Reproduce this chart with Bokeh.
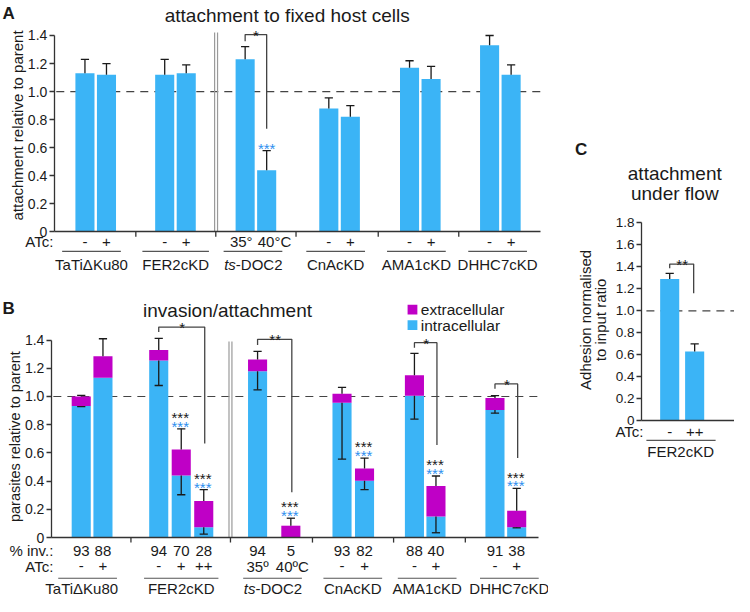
from bokeh.plotting import figure
from bokeh.models import Range1d, LinearAxis, FixedTicker, PrintfTickFormatter
from bokeh.layouts import row, column
from bokeh.embed import file_html
from bokeh.resources import INLINE
from bokeh.core.properties import value
import math

# ---------------- data ----------------
GROUPS = ["TaTiΔKu80", "FER2cKD", "ts-DOC2", "CnAcKD", "AMA1cKD", "DHHC7cKD"]

# Panel A: attachment to fixed host cells
A_GROUP = [0, 0, 1, 1, 2, 2, 3, 3, 4, 4, 5, 5]
A_ATC = ["-", "+", "-", "+", "35°", "40°C", "-", "+", "-", "+", "-", "+"]
A_MEAN = [1.13, 1.12, 1.12, 1.13, 1.23, 0.44, 0.88, 0.82, 1.17, 1.09, 1.33, 1.12]
A_ERR = [1.23, 1.20, 1.23, 1.19, 1.32, 0.58, 0.955, 0.90, 1.22, 1.18, 1.40, 1.19]
A_BLUE_STARS = [5]
A_BRACKETS = [(4, 5, "*")]

# Panel B: invasion/attachment
B_GROUP = [0, 0, 1, 1, 1, 2, 2, 3, 3, 4, 4, 5, 5]
B_ATC = ["-", "+", "-", "+", "++", "35º", "40ºC", "-", "+", "-", "+", "-", "+"]
B_INV = ["93", "88", "94", "70", "28", "94", "5", "93", "82", "88", "40", "91", "38"]
B_TOTAL = [1.00, 1.285, 1.33, 0.625, 0.26, 1.262, 0.085, 1.02, 0.49, 1.151, 0.366, 0.99, 0.191]
B_INTRA = [0.932, 1.133, 1.255, 0.44, 0.074, 1.179, 0.0, 0.955, 0.403, 1.006, 0.15, 0.905, 0.074]
B_ERR_HI = [1.008, 1.409, 1.411, 0.771, 0.341, 1.319, 0.138, 1.064, 0.564, 1.305, 0.437, 1.006, 0.35]
B_ERR_LO = [0.928, None, 1.078, 0.304, 0.026, 1.047, None, 0.557, 0.341, 0.84, 0.035, 0.882, 0.07]
B_STARS = [3, 4, 6, 8, 10, 12]
B_BRACKETS = [(2, 4, "*"), (5, 6, "**"), (9, 10, "*"), (11, 12, "*")]

# Panel C: attachment under flow
C_ATC = ["-", "++"]
C_MEAN = [1.29, 0.63]
C_ERR = [1.34, 0.70]
C_BRACKETS = [(0, 1, "**")]

# ---------------- style / layout ----------------
FONT = "Liberation Sans"
BLUE = "#3BB4F6"
PURPLE = "#BF00C6"
STAR_BLUE = "#2E8FEF"
INK = "#1a1a1a"
AXIS = "#333333"
SX = 734 / 750
SY = 596 / 612
STAR_FS = 15


class Conv:
    def __init__(self, y0, ppu):
        self.y0, self.ppu = y0, ppu

    def __call__(self, py):
        return (self.y0 - py) / self.ppu

    def px(self, v):
        return self.y0 - v * self.ppu


def make_fig(x0, x1, top_px, bot_px, conv):
    w = round((x1 - x0) * SX)
    h = round((bot_px - top_px) * SY)
    p = figure(width=w, height=h, x_range=Range1d(x0, x1),
               y_range=Range1d(conv(bot_px), conv(top_px)),
               x_axis_type=None, y_axis_type=None, toolbar_location=None,
               output_backend="svg", min_border=0, outline_line_color=None,
               background_fill_color="white", border_fill_color="white")
    return p


def T(p, x, y, s, size="15px", align="center", baseline="middle", color=INK,
      style="normal", angle=0.0):
    p.text(x=[x], y=[y], text=[s], text_font=value(FONT), text_font_size=value(size),
           text_align=align, text_baseline=baseline, text_color=color,
           text_font_style=style, angle=angle)


def add_axes(p, xpos, ytop, yticks, xb0, xb1, xticks, conv, label_size="14px"):
    ya = LinearAxis(fixed_location=xpos, bounds=(0, ytop), ticker=FixedTicker(ticks=yticks),
                    formatter=PrintfTickFormatter(format="%.1f"),
                    major_label_overrides={0: "0"}, major_tick_out=5, major_tick_in=0,
                    minor_tick_out=0, minor_tick_in=0, axis_line_color=AXIS,
                    axis_line_width=1.3, major_tick_line_color=AXIS, major_tick_line_width=1.3,
                    major_label_text_font=FONT, major_label_text_font_size=label_size,
                    major_label_text_color=INK, major_label_standoff=2)
    p.add_layout(ya, "left")
    xa = LinearAxis(fixed_location=0, bounds=(xb0, xb1), ticker=FixedTicker(ticks=[]),
                    major_tick_out=0, major_tick_in=0, minor_tick_out=0, minor_tick_in=0,
                    axis_line_color=AXIS, axis_line_width=1.3)
    p.add_layout(xa, "below")
    # group separator ticks under the axis line
    if xticks:
        p.segment(x0=xticks, y0=[0] * len(xticks), x1=xticks, y1=[conv(conv.y0 + 5)] * len(xticks),
                  line_color=AXIS, line_width=1.3)


def whisker(p, x, v0, v1, half_px=4.2):
    p.segment(x0=[x], y0=[v0], x1=[x], y1=[v1], line_color=INK, line_width=1.3)
    p.segment(x0=[x - half_px], y0=[v1], x1=[x + half_px], y1=[v1], line_color=INK, line_width=1.3)


def star(p, x, center_px, conv, s, color=INK, size=STAR_FS):
    T(p, x, conv(center_px + 0.5 * size), s, size=f"{size}px", baseline="alphabetic", color=color)


def bracket(p, xl, xr, top_px, lb_px, rb_px, conv):
    p.line(x=[xl, xl, xr, xr], y=[conv(lb_px), conv(top_px), conv(top_px), conv(rb_px)],
           line_color="#444444", line_width=1.3)


TICKS_14 = [0, 0.2, 0.4, 0.6, 0.8, 1.0, 1.2, 1.4]
TICKS_18 = [0, 0.2, 0.4, 0.6, 0.8, 1.0, 1.2, 1.4, 1.6, 1.8]

# =============== Panel A ===============
a_v = Conv(238.0, 144.3)
pa = make_fig(0, 560, 0, 290, a_v)
A_GCENTER = [97.3, 178.8, 261.0, 346.5, 429.0, 510.8]
A_X = [A_GCENTER[g] + (-11 if i % 2 == 0 else 11) for i, g in enumerate(A_GROUP)]

pa.segment(x0=[57], y0=[1.0], x1=[552], y1=[1.0], line_color="#444444", line_width=1.2, line_dash="8 6")
for xs in (218.8, 221.8):
    pa.segment(x0=[xs], y0=[a_v(33)], x1=[xs], y1=[0], line_color="#9a9a9a", line_width=1.2)
pa.vbar(x=A_X, top=A_MEAN, bottom=0, width=19.5, fill_color=BLUE, line_color=None)
for x, m, e in zip(A_X, A_MEAN, A_ERR):
    whisker(pa, x, m, e)
add_axes(pa, 55, 1.4, TICKS_14, 55, 552, [138.3, 220, 302, 386, 468.3], a_v)
for i in A_BLUE_STARS:
    star(pa, A_X[i], a_v.px(A_ERR[i]) - 10, a_v, "***", color=STAR_BLUE)
for i, j, s in A_BRACKETS:
    bracket(pa, A_X[i], A_X[j], 35, 42, 132, a_v)
    star(pa, (A_X[i] + A_X[j]) / 2, 29, a_v, s)
# below-axis rows
T(pa, 54, a_v(248), "ATc:", align="right")
for i, (x, s) in enumerate(zip(A_X, A_ATC)):
    if A_GROUP[i] == 2:
        continue
    T(pa, x, a_v(248), s)
T(pa, 246, a_v(248), A_ATC[4])
T(pa, 280, a_v(248), A_ATC[5])
A_LCENTER = [93, 179, 258, 342.5, 425, 508]
for g, c in enumerate(A_LCENTER):
    hw = 34 if g == 1 else 30
    pa.segment(x0=[c - hw], y0=[a_v(258)], x1=[c + hw], y1=[a_v(258)], line_color="#555555", line_width=1.2)
    if GROUPS[g].startswith("ts-"):
        T(pa, c - 17.5, a_v(272), "ts", align="right", style="italic")
        T(pa, c - 17.5, a_v(272), GROUPS[g][2:], align="left")
    else:
        T(pa, c, a_v(272), GROUPS[g])
T(pa, 2, a_v(13.5), "A", size="17px", align="left", baseline="alphabetic", style="bold")
T(pa, 293, a_v(15), "attachment to fixed host cells", size="19px", baseline="alphabetic")
T(pa, 17.5, a_v(128.5), "attachment relative to parent", angle=math.pi / 2)

# =============== Panel B ===============
b_v = Conv(551.7, 144.8)
pb = make_fig(0, 560, 290, 612, b_v)
B_X = [82.5, 104.7, 161.7, 184.7, 207.7, 262.7, 296.7, 349.0, 372.0, 423.0, 445.0, 505.3, 527.5]

pb.segment(x0=[54], y0=[1.0], x1=[550], y1=[1.0], line_color="#444444", line_width=1.2, line_dash="8 6")
for xs in (233.5, 236.5):
    pb.segment(x0=[xs], y0=[b_v(350.5)], x1=[xs], y1=[0], line_color="#9a9a9a", line_width=1.2)
pb.vbar(x=B_X, top=B_INTRA, bottom=0, width=19.5, fill_color=BLUE, line_color=None)
pb.vbar(x=B_X, top=B_TOTAL, bottom=B_INTRA, width=19.5, fill_color=PURPLE, line_color=None)
for x, tot, intra, hi, lo in zip(B_X, B_TOTAL, B_INTRA, B_ERR_HI, B_ERR_LO):
    whisker(pb, x, tot, hi)
    if lo is not None:
        whisker(pb, x, intra, lo)
add_axes(pb, 52, 1.4, TICKS_14, 52, 550, [133.3, 235, 318.8, 401.7, 475], b_v)
for i in B_STARS:
    c = b_v.px(B_ERR_HI[i])
    star(pb, B_X[i] - 1, c - 19, b_v, "***")
    star(pb, B_X[i] - 1, c - 10, b_v, "***", color=STAR_BLUE)
B_BR_GEOM = [(335.7, 340.7, 455), (348.3, 354, 505), (351.7, 357, 456.7), (394, 399, 470)]
for (i, j, s), (tp, lb, rb) in zip(B_BRACKETS, B_BR_GEOM):
    bracket(pb, B_X[i], B_X[j] + 1, tp, lb, rb, b_v)
    star(pb, (B_X[i] + B_X[j]) / 2 + 1, tp - 7, b_v, s)
# legend
pb.quad(left=[416], right=[426], top=[b_v(312.7)], bottom=[b_v(322.7)], fill_color=PURPLE, line_color=None)
pb.quad(left=[416], right=[426], top=[b_v(328.7)], bottom=[b_v(338.7)], fill_color=BLUE, line_color=None)
T(pb, 429.5, b_v(317.7), "extracellular", size="15.5px", align="left")
T(pb, 429.5, b_v(333.7), "intracellular", size="15.5px", align="left")
# below-axis rows
T(pb, 54, b_v(565), "% inv.:", align="right")
T(pb, 54, b_v(581), "ATc:", align="right")
for x, s, a in zip(B_X, B_INV, B_ATC):
    T(pb, x, b_v(565), s)
    T(pb, x + (1.5 if a.endswith("C") else 0), b_v(581), a)
B_LCENTER = [89, 184.7, 278, 360, 436, 520]
for g, c in enumerate(B_LCENTER):
    hw = 38 if g == 1 else 30
    pb.segment(x0=[c - hw], y0=[b_v(593.3)], x1=[c + hw], y1=[b_v(593.3)], line_color="#555555", line_width=1.2)
    lc = 83 if g == 0 else c
    if GROUPS[g].startswith("ts-"):
        T(pb, lc - 17.5, b_v(604), "ts", align="right", style="italic")
        T(pb, lc - 17.5, b_v(604), GROUPS[g][2:], align="left")
    else:
        T(pb, lc, b_v(604), GROUPS[g])
T(pb, 2, b_v(316.7), "B", size="17px", align="left", baseline="alphabetic", style="bold")
T(pb, 232, b_v(319), "invasion/attachment", size="19px", baseline="alphabetic")
T(pb, 15, b_v(448), "parasites relative to parent", size="14.5px", angle=math.pi / 2)

# =============== Panel C ===============
c_v = Conv(431.7, 113.0)
pc = make_fig(560, 750, 0, 612, c_v)
C_X = [683.8, 709.3]
pc.segment(x0=[660], y0=[1.0], x1=[750], y1=[1.0], line_color="#444444", line_width=1.2, line_dash="8 6")
pc.vbar(x=C_X, top=C_MEAN, bottom=0, width=19.5, fill_color=BLUE, line_color=None)
for x, m, e in zip(C_X, C_MEAN, C_ERR):
    whisker(pc, x, m, e)
add_axes(pc, 655, 1.8, TICKS_18, 655, 750, [], c_v, label_size="13.5px")
for i, j, s in C_BRACKETS:
    bracket(pc, C_X[i], C_X[j] - 1, 270.7, 275, 300.7, c_v)
    star(pc, (C_X[i] + C_X[j]) / 2, 264, c_v, s)
T(pc, 657, c_v(443), "ATc:", align="right")
for x, s in zip(C_X, C_ATC):
    T(pc, x, c_v(443), s)
pc.segment(x0=[660], y0=[c_v(451.7)], x1=[730.7], y1=[c_v(451.7)], line_color="#555555", line_width=1.2)
T(pc, 695, c_v(463.3), "FER2cKD")
T(pc, 587, c_v(153.3), "C", size="17px", align="left", baseline="alphabetic", style="bold")
T(pc, 689, c_v(177.3), "attachment", size="19px", baseline="alphabetic")
T(pc, 689, c_v(198.3), "under flow", size="19px", baseline="alphabetic")
T(pc, 597.5, c_v(328), "Adhesion normalised", angle=math.pi / 2)
T(pc, 613, c_v(328), "to input ratio", angle=math.pi / 2)

p = row(column(pa, pb), pc)
open("out.html", "w").write(file_html(p, INLINE))
